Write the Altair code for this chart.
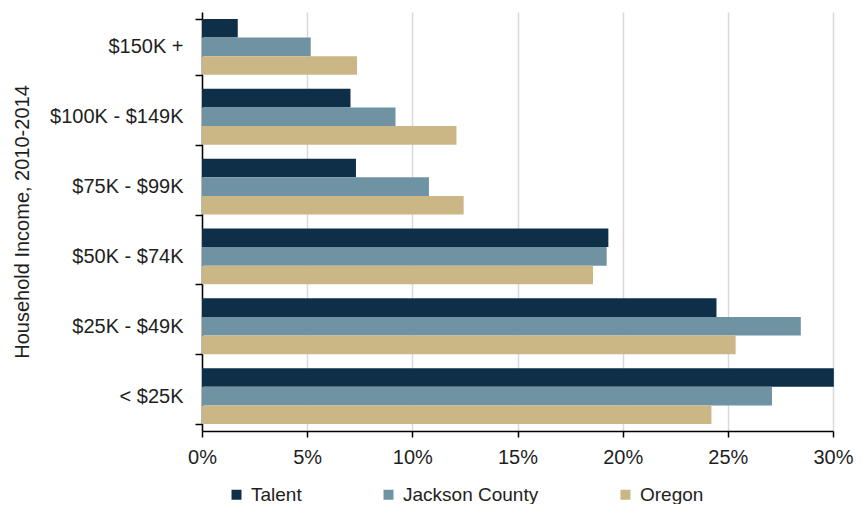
import altair as alt
import pandas as pd

categories = ["$150K +", "$100K - $149K", "$75K - $99K", "$50K - $74K", "$25K - $49K", "< $25K"]
series = ["Talent", "Jackson County", "Oregon"]
talent = [1.70, 7.06, 7.32, 19.32, 24.46, 30.04]
jackson = [5.17, 9.20, 10.79, 19.24, 28.47, 27.10]
oregon = [7.37, 12.10, 12.44, 18.59, 25.37, 24.22]
colors = ["#0f2f48", "#6f93a3", "#cbb785"]
x_ticks = [0, 0.05, 0.10, 0.15, 0.20, 0.25, 0.30]

rows = []
for name, vals in zip(series, [talent, jackson, oregon]):
    for c, v in zip(categories, vals):
        rows.append({"Income": c, "Area": name, "Share": v / 100})
df = pd.DataFrame(rows)

FONT = "Liberation Sans"
TXT = "#1e1e1e"

chart = alt.Chart(df).mark_bar().encode(
    x=alt.X("Share:Q",
            scale=alt.Scale(domain=[0, 0.30], nice=False),
            axis=alt.Axis(values=x_ticks, format=".0%", title=None, grid=True,
                          gridColor="#d9d9d9", gridWidth=1.5, labelFlush=False,
                          domainColor="#000000", domainWidth=1.5,
                          tickColor="#000000", tickWidth=1.5, tickSize=6,
                          labelPadding=10, labelFontSize=20, labelFont=FONT,
                          labelColor=TXT)),
    y=alt.Y("Income:N", sort=categories,
            scale=alt.Scale(paddingInner=0.2, paddingOuter=0.1),
            axis=alt.Axis(title="Household Income, 2010-2014", tickBand="extent",
                          domainColor="#000000", domainWidth=1.5,
                          tickColor="#000000", tickWidth=1.5, tickSize=7,
                          labelPadding=12, labelFontSize=20, labelFont=FONT,
                          labelColor=TXT, titleFont=FONT, titleFontSize=20,
                          titleFontWeight="normal", titleColor=TXT,
                          titleX=-174, titleY=209.5, titleBaseline="alphabetic")),
    yOffset=alt.YOffset("Area:N", sort=series, scale=alt.Scale(paddingInner=0, paddingOuter=0)),
    color=alt.Color("Area:N", sort=series,
                    scale=alt.Scale(domain=series, range=colors),
                    legend=alt.Legend(title=None, orient="none", direction="horizontal",
                                      legendX=25, legendY=473, padding=0,
                                      symbolType="square", symbolSize=100,
                                      symbolStrokeWidth=0, labelOffset=5,
                                      columnPadding=77, labelFontSize=19,
                                      labelFont=FONT, labelColor=TXT)),
).properties(
    width=631,
    height=419,
    autosize=alt.AutoSizeParams(type="none"),
    padding={"left": 194, "top": 4, "right": 21, "bottom": 73},
).configure_view(stroke=None)

chart.save("out.html", embed_options={"renderer": "svg", "actions": False})
